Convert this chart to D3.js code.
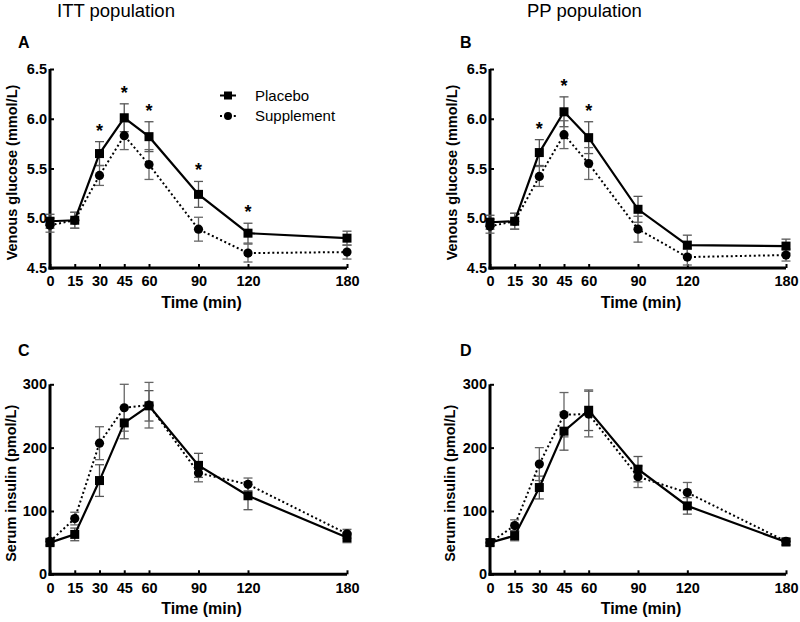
<!DOCTYPE html>
<html><head><meta charset="utf-8">
<script src="https://cdn.jsdelivr.net/npm/d3@7"></script>
<style>body{margin:0;background:#fff}svg{display:block}text{font-family:"Liberation Sans",Arial,sans-serif}</style>
</head><body>
<svg id="c" width="800" height="622"></svg>
<script>
const times = [0, 15, 30, 45, 60, 90, 120, 180];
const xTicks = [0, 15, 30, 45, 60, 90, 120, 180];
const glucoseTicks = [4.5, 5.0, 5.5, 6.0, 6.5];
const insulinTicks = [0, 100, 200, 300];

// Panel A: venous glucose, ITT
const glucITTPlacebo = [4.97, 4.98, 5.65, 6.01, 5.82, 5.24, 4.85, 4.80];
const glucITTPlaceboErr = [0.07, 0.08, 0.12, 0.14, 0.15, 0.13, 0.10, 0.07];
const glucITTSupp = [4.93, 4.98, 5.43, 5.83, 5.54, 4.89, 4.65, 4.66];
const glucITTSuppErr = [0.07, 0.08, 0.10, 0.14, 0.15, 0.12, 0.09, 0.07];
const glucITTStars = [30, 45, 60, 90, 120];

// Panel B: venous glucose, PP
const glucPPPlacebo = [4.96, 4.97, 5.66, 6.07, 5.81, 5.09, 4.73, 4.72];
const glucPPPlaceboErr = [0.07, 0.08, 0.13, 0.15, 0.16, 0.13, 0.10, 0.07];
const glucPPSupp = [4.92, 4.97, 5.42, 5.84, 5.55, 4.89, 4.61, 4.63];
const glucPPSuppErr = [0.07, 0.08, 0.10, 0.14, 0.16, 0.13, 0.08, 0.06];
const glucPPStars = [30, 45, 60];

// Panel C: serum insulin, ITT
const insITTPlacebo = [50, 63, 148, 239, 266, 172, 124, 58];
const insITTPlaceboErr = [5, 10, 25, 25, 24, 19, 22, 8];
const insITTSupp = [52, 88, 207, 263, 267, 160, 142, 64];
const insITTSuppErr = [5, 10, 26, 37, 36, 14, 10, 7];

// Panel D: serum insulin, PP
const insPPPlacebo = [50, 61, 137, 226, 259, 166, 108, 51];
const insPPPlaceboErr = [5, 8, 18, 30, 32, 20, 13, 5];
const insPPSupp = [50, 77, 174, 252, 253, 154, 129, 52];
const insPPSuppErr = [5, 9, 26, 35, 36, 17, 16, 5];

const svg = d3.select("#c");

svg.append("text").attr("x", 57).attr("y", 17).attr("font-size", 18.5).text("ITT population");
svg.append("text").attr("x", 527).attr("y", 17).attr("font-size", 18.5).text("PP population");

const panels = [
  {letter: "A", lx: 18, ly: 48, x0: 50, x1: 347, yTop: 69, yBot: 268, dom: [4.5, 6.5], ticks: glucoseTicks, fmt: d3.format(".1f"),
   ylab: "Venous glucose (mmol/L)", ylabX: 12, p: glucITTPlacebo, pe: glucITTPlaceboErr, s: glucITTSupp, se: glucITTSuppErr, stars: glucITTStars, legend: true},
  {letter: "B", lx: 460, ly: 48, x0: 490, x1: 786, yTop: 69, yBot: 268, dom: [4.5, 6.5], ticks: glucoseTicks, fmt: d3.format(".1f"),
   ylab: "Venous glucose (mmol/L)", ylabX: 452, p: glucPPPlacebo, pe: glucPPPlaceboErr, s: glucPPSupp, se: glucPPSuppErr, stars: glucPPStars},
  {letter: "C", lx: 18, ly: 356, x0: 50, x1: 347, yTop: 384.3, yBot: 574.3, dom: [0, 300], ticks: insulinTicks, fmt: d3.format("d"),
   ylab: "Serum insulin (pmol/L)", ylabX: 11, p: insITTPlacebo, pe: insITTPlaceboErr, s: insITTSupp, se: insITTSuppErr, stars: []},
  {letter: "D", lx: 460, ly: 356, x0: 490, x1: 786, yTop: 384.3, yBot: 574.3, dom: [0, 300], ticks: insulinTicks, fmt: d3.format("d"),
   ylab: "Serum insulin (pmol/L)", ylabX: 450, p: insPPPlacebo, pe: insPPPlaceboErr, s: insPPSupp, se: insPPSuppErr, stars: []}
];

panels.forEach(P => {
  const x = d3.scaleLinear().domain([0, 180]).range([P.x0, P.x1]);
  const y = d3.scaleLinear().domain(P.dom).range([P.yBot, P.yTop]);
  const g = svg.append("g");

  g.append("text").attr("x", P.lx).attr("y", P.ly).attr("font-size", 16).attr("font-weight", "bold").text(P.letter);

  const xAxis = d3.axisBottom(x).tickValues(xTicks).tickSize(-4).tickPadding(8).tickSizeOuter(0);
  const gx = g.append("g").attr("transform", `translate(0,${P.yBot})`).call(xAxis);
  const yAxis = d3.axisLeft(y).tickValues(P.ticks).tickFormat(P.fmt).tickSize(-4).tickPadding(3).tickSizeOuter(0);
  const gy = g.append("g").attr("transform", `translate(${P.x0},0)`).call(yAxis);
  [gx, gy].forEach(a => {
    a.select(".domain").attr("stroke", "#000").attr("stroke-width", 3);
    a.selectAll(".tick line").attr("stroke", "#000").attr("stroke-width", 2);
    a.selectAll(".tick text").attr("font-size", 14.5).attr("font-weight", "bold").attr("fill", "#000")
      .attr("font-family", '"Liberation Sans",Arial,sans-serif');
  });
  gx.select(".domain").attr("d", `M${P.x0 - 1.5},0H${P.x1}`);
  gy.select(".domain").attr("d", `M0,${P.yBot + 1.5}V${P.yTop}`);
  gx.selectAll(".tick text").attr("dy", "0.71em");

  g.append("text").attr("transform", `translate(${P.ylabX},${(P.yTop + P.yBot) / 2 + 4}) rotate(-90)`)
    .attr("text-anchor", "middle").attr("dominant-baseline", "central")
    .attr("font-size", 14.5).attr("font-weight", "bold").text(P.ylab);
  g.append("text").attr("x", (P.x0 + P.x1) / 2 + 3).attr("y", P.yBot + 40)
    .attr("text-anchor", "middle").attr("font-size", 16).attr("font-weight", "bold").text("Time (min)");

  const series = [
    {v: P.p, e: P.pe, dash: null, shape: "square", errCol: "#555"},
    {v: P.s, e: P.se, dash: "2,2.6", shape: "circle", errCol: "#666"}
  ];

  series.forEach(S => {
    const eg = g.append("g").attr("stroke", S.errCol).attr("stroke-width", 1.3).attr("fill", "none");
    times.forEach((t, i) => {
      const cx = x(t), hi = y(S.v[i] + S.e[i]), lo = y(S.v[i] - S.e[i]);
      eg.append("line").attr("x1", cx).attr("x2", cx).attr("y1", hi).attr("y2", lo);
      eg.append("line").attr("x1", cx - 4.5).attr("x2", cx + 4.5).attr("y1", hi).attr("y2", hi);
      eg.append("line").attr("x1", cx - 4.5).attr("x2", cx + 4.5).attr("y1", lo).attr("y2", lo);
    });
  });

  const line = d3.line().x((d, i) => x(times[i])).y(d => y(d));
  [series[1], series[0]].forEach(S => {
    g.append("path").attr("d", line(S.v)).attr("fill", "none").attr("stroke", "#000")
      .attr("stroke-width", S.dash ? 2 : 2.2).attr("stroke-dasharray", S.dash);
  });
  [series[1], series[0]].forEach(S => {
    times.forEach((t, i) => {
      if (S.shape === "square") {
        g.append("rect").attr("x", x(t) - 4.5).attr("y", y(S.v[i]) - 4.5).attr("width", 9).attr("height", 9).attr("fill", "#000");
      } else {
        g.append("circle").attr("cx", x(t)).attr("cy", y(S.v[i])).attr("r", 4.6).attr("fill", "#000");
      }
    });
  });

  P.stars.forEach(t => {
    const i = times.indexOf(t);
    g.append("text").attr("x", x(t)).attr("y", y(P.p[i] + P.pe[i]) - 5)
      .attr("text-anchor", "middle").attr("font-size", 18).attr("font-weight", "bold").text("*");
  });

  if (P.legend) {
    const lg = g.append("g");
    const items = [{name: "Placebo", dash: null, shape: "square", y: 95.5}, {name: "Supplement", dash: "2,2.6", shape: "circle", y: 116}];
    items.forEach(it => {
      lg.append("line").attr("x1", 220).attr("x2", 236).attr("y1", it.y).attr("y2", it.y)
        .attr("stroke", "#000").attr("stroke-width", 2).attr("stroke-dasharray", it.dash);
      if (it.shape === "square") lg.append("rect").attr("x", 224).attr("y", it.y - 4).attr("width", 8).attr("height", 8);
      else lg.append("circle").attr("cx", 228).attr("cy", it.y).attr("r", 4);
      lg.append("text").attr("x", 255).attr("y", it.y + 5).attr("font-size", 15).text(it.name);
    });
  }
});
</script>
</body></html>
